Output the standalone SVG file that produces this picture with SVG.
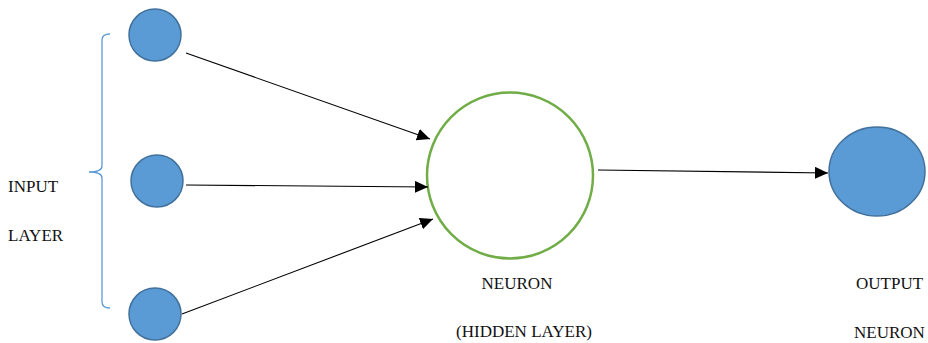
<svg xmlns="http://www.w3.org/2000/svg" width="928" height="343" viewBox="0 0 928 343">
  <style>
    .unit { fill: #5B9BD5; stroke: #41719C; stroke-width: 1.5; }
    .hidden { fill: #FFFFFF; stroke: #70AD47; stroke-width: 2.5; }
    .edge { stroke: #000000; stroke-width: 1.1; fill: none; marker-end: url(#arrow); }
    .brace { fill: none; stroke: #5B9BD5; stroke-width: 1.3; }
    .label { font-size: 17px; fill: #111111; }
  </style>
  <defs>
    <marker id="arrow" markerUnits="userSpaceOnUse" markerWidth="14" markerHeight="12" refX="13" refY="6" orient="auto">
      <path d="M0,0 L13,6 L0,12 Z" fill="#000000"/>
    </marker>
  </defs>
  <rect width="928" height="343" fill="#FFFFFF"/>

  <g font-family="'Liberation Serif', 'DejaVu Serif', serif">
    <!-- input layer brace and label -->
    <g id="input-layer">
      <path class="brace" d="M110,34 Q102,34 102,40 V166 Q102,172 89,172 Q102,172 102,178 V302 Q102,308 110,308"/>
      <text class="label" x="8" y="192">INPUT</text>
      <text class="label" x="8" y="241">LAYER</text>
    </g>

    <g id="input-1"><circle class="unit" cx="155" cy="35" r="26"/></g>
    <g id="input-2"><circle class="unit" cx="157" cy="181" r="26"/></g>
    <g id="input-3"><circle class="unit" cx="155" cy="314" r="26"/></g>

    <g id="neuron">
      <circle class="hidden" cx="510" cy="175.5" r="83"/>
      <text class="label" x="517" y="289" text-anchor="middle">NEURON</text>
      <text class="label" x="524" y="337" text-anchor="middle">(HIDDEN LAYER)</text>
    </g>

    <g id="output">
      <ellipse class="unit" cx="877" cy="171.5" rx="48" ry="44.5"/>
      <text class="label" x="856" y="289">OUTPUT</text>
      <text class="label" x="854" y="338">NEURON</text>
    </g>
  </g>

  <!-- connections -->
  <g id="connectors">
    <line class="edge" x1="186" y1="53" x2="430" y2="139"/>
    <line class="edge" x1="186" y1="185" x2="428" y2="187"/>
    <line class="edge" x1="182" y1="314" x2="433" y2="219"/>
    <line class="edge" x1="598" y1="170" x2="828" y2="173"/>
  </g>
</svg>
